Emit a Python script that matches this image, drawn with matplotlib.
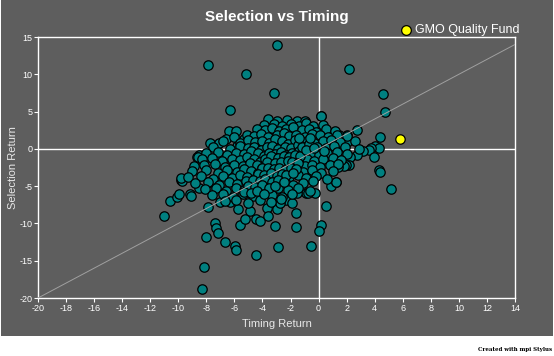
import matplotlib
matplotlib.use("Agg")
import matplotlib.pyplot as plt
from matplotlib.patches import Rectangle

plt.rcParams["font.family"] = ["Liberation Sans", "DejaVu Sans"]
plt.rcParams["axes.unicode_minus"] = False

# peer funds: timing return (x) vs selection return (y)
outlier_x = [-3.0, -7.86, -5.17, -3.18, -6.3, 0.17, -3.58, -3.0, -2.23, -1.52, -0.95,
             -3.4, -6.36, -6.58, -5.3, -7.74, -7.08, -8.52, -8.7, -8.86, -5.84,
             -11.0, -10.6, -10.1, -9.95, -9.83, -9.76, -9.17, -9.1, -8.52, -7.86,
             -7.36, -7.29, -7.19, -8.0, -6.65, -5.94, -5.87, -8.15, -8.29, -5.58,
             -5.25, -4.87, -4.49, -4.18, -3.68, -3.63, -3.1, -4.46, -2.87, -1.6,
             -1.59, 0.17, 0.05, -0.52, 0.55, -2.99, -5.77, -2.35, -1.9, -0.92,
             -0.28, 0.86, 1.24, -6.3, -7.03, -7.81, 2.19, 4.61, 4.75, 0.19, 2.76,
             4.38, 4.02, 4.33, 3.76, 3.59, 3.19, 2.76, 2.24, 3.97, 2.19, 1.93,
             4.28, 4.38, 1.45, 2.0, 2.05, 1.72, 5.16, 1.21, 1.79, 1.38, -2.75,
             -0.78, -1.56, -9.8, -8.62, -7.79]
outlier_y = [13.9, 11.25, 10.0, 7.5, 5.2, 4.4, 4.0, 3.74, 3.87, 3.7, 3.78,
             2.76, 2.4, 1.29, 1.33, 0.75, 0.75, -0.86, -1.1, -2.3, 0.35,
             -9.0, -7.0, -6.4, -6.1, -4.17, -4.34, -6.1, -6.3, -5.2, -7.8,
             -9.9, -10.6, -11.3, -11.8, -12.5, -13.0, -13.5, -15.8, -18.8, -10.2,
             -9.4, -8.3, -9.4, -9.66, -7.9, -8.95, -10.3, -14.3, -13.15, -10.5,
             -8.6, -10.2, -11.0, -13.0, -7.7, -8.06, -8.06, -6.9, -7.3, -5.96,
             -5.96, -4.93, -4.48, -7.1, -7.1, -4.5, 10.67, 7.36, 4.95, 4.37, 2.49,
             1.55, 0.43, 0.07, 0.07, -0.15, -0.24, -0.77, -1.13, -1.13, -2.16, -2.16,
             -2.83, -3.06, 1.86, 1.86, 0.88, 0.08, -5.37, -4.48, -2.25, -2.4, -7.2,
             -5.95, -5.87, -3.95, -1.04, -4.5]

core_x = [-3.9, -3.2, -2.6, -2.0, -1.4, -0.9, -0.4, 0.3,
          -5.9, -4.4, -3.8, -3.3, -2.8, -2.3, -1.8, -1.2, -0.7, -0.2, 0.5, 1.2,
          -6.0, -5.1, -4.6, -4.1, -3.6, -3.0, -2.5, -2.1, -1.6, -1.0, -0.5, 0.1, 0.7, 1.3, 2.0,
          -6.8, -5.6, -5.0, -4.5, -4.0, -3.5, -3.1, -2.6, -2.2, -1.7, -1.2, -0.8, -0.3, 0.3, 0.9, 1.5, 2.6,
          -7.5, -6.3, -5.6, -5.0, -4.6, -4.1, -3.7, -3.3, -2.9, -2.4, -2.0, -1.5, -1.1, -0.6, -0.1, 0.5, 1.1, 1.9, 2.9,
          -8.0, -7.2, -6.5, -5.9, -5.3, -4.8, -4.3, -3.9, -3.5, -3.1, -2.7, -2.3, -1.9, -1.4, -1.0, -0.5, 0.0, 0.6, 1.3, 2.0,
          -8.3, -7.6, -6.9, -6.2, -5.6, -5.1, -4.6, -4.2, -3.8, -3.4, -3.0, -2.6, -2.2, -1.8, -1.3, -0.8, -0.3, 0.3, 1.0, 1.6,
          -8.2, -7.4, -6.7, -6.0, -5.4, -4.9, -4.4, -4.0, -3.6, -3.2, -2.8, -2.4, -2.0, -1.5, -1.0, -0.5, 0.1, 0.8, 1.4,
          -9.0, -8.0, -7.2, -6.5, -5.8, -5.3, -4.8, -4.3, -3.9, -3.5, -3.0, -2.6, -2.1, -1.6, -1.1, -0.5, 0.2, 1.0,
          -9.3, -8.4, -7.5, -6.8, -6.2, -5.6, -5.1, -4.6, -4.1, -3.6, -3.1, -2.6, -2.1, -1.5, -0.9, -0.2, 0.6,
          -8.8, -7.9, -7.1, -6.4, -5.8, -5.2, -4.6, -4.1, -3.6, -3.0, -2.4, -1.8, -1.1, -0.4,
          -8.1, -7.3, -6.6, -5.9, -5.3, -4.7, -4.1, -3.5, -2.9, -2.2, -1.5, -0.6,
          -7.6, -6.8, -6.1, -5.4, -4.7, -4.0, -3.3, -2.6, -1.9,
          -6.7, -5.9, -5.0, -4.2, -3.4, -2.7,
          -3.4, -2.9, -2.5, -2.1, -1.7, -1.3, -3.7, -3.1, -2.7, -2.2, -1.9, -1.5,
          -4.0, -3.6, -3.2, -2.8, -2.4, -2.0, -1.6, -4.3, -3.9, -3.4, -3.0, -2.6,
          -2.3, -1.8, -4.7, -4.2, -3.8, -3.3, -2.9, -2.5, -5.0, -4.5, -4.0, -3.5,
          -3.1, -5.3, -4.8, -4.4, -3.9, -1.2, -0.7, -0.9, -0.3, 0.4, -1.4, -0.6]
core_y = [3.2, 3.4, 3.0, 3.3, 3.1, 3.5, 3.0, 3.2,
          2.4, 2.7, 2.5, 2.8, 2.4, 2.6, 2.9, 2.5, 2.7, 2.3, 2.6, 2.4,
          1.6, 1.9, 1.7, 2.0, 1.6, 1.8, 2.1, 1.7, 1.9, 1.6, 2.0, 1.8, 1.6, 1.9, 1.7,
          1.0, 0.8, 1.2, 0.9, 1.1, 0.8, 1.3, 1.0, 0.7, 1.2, 0.9, 1.1, 0.8, 1.0, 1.2, 0.9, 1.1,
          0.2, 0.0, 0.4, 0.1, 0.3, -0.1, 0.2, 0.4, 0.0, 0.3, 0.1, 0.5, 0.2, 0.0, 0.3, 0.1, 0.4, 0.2, 0.0,
          -0.6, -0.4, -0.8, -0.5, -0.7, -0.3, -0.6, -0.9, -0.5, -0.7, -0.4, -0.8, -0.6, -0.3, -0.7, -0.5, -0.8, -0.6, -0.4, -0.7,
          -1.4, -1.2, -1.6, -1.3, -1.5, -1.1, -1.4, -1.7, -1.3, -1.5, -1.2, -1.6, -1.4, -1.1, -1.5, -1.3, -1.6, -1.4, -1.2, -1.5,
          -2.2, -2.0, -2.4, -2.1, -2.3, -1.9, -2.2, -2.5, -2.1, -2.3, -2.0, -2.4, -2.2, -1.9, -2.3, -2.1, -2.4, -2.2, -2.0,
          -3.0, -2.8, -3.2, -2.9, -3.1, -2.7, -3.0, -3.3, -2.9, -3.1, -2.8, -3.2, -3.0, -2.7, -3.1, -2.9, -3.2, -3.0,
          -3.8, -3.6, -4.0, -3.7, -3.9, -3.5, -3.8, -4.1, -3.7, -3.9, -3.6, -4.0, -3.8, -3.5, -3.9, -3.7, -4.0,
          -4.6, -4.4, -4.8, -4.5, -4.7, -4.3, -4.6, -4.9, -4.5, -4.7, -4.4, -4.8, -4.6, -4.3,
          -5.4, -5.2, -5.6, -5.3, -5.5, -5.1, -5.4, -5.7, -5.3, -5.5, -5.2, -5.6,
          -6.2, -6.0, -6.4, -6.1, -6.3, -5.9, -6.2, -6.5, -6.1,
          -7.0, -6.8, -7.2, -6.9, -7.1, -6.7,
          -1.0, -1.2, -0.9, -1.1, -0.8, -1.0, -1.8, -1.9, -1.7, -1.6, -1.8, -1.9,
          -2.6, -2.5, -2.7, -2.6, -2.8, -2.5, -2.7, -3.4, -3.5, -3.3, -3.6, -3.4,
          -3.5, -3.3, -4.2, -4.3, -4.1, -4.4, -4.2, -4.4, -5.0, -5.1, -4.9, -5.2,
          -5.0, -5.8, -5.9, -5.7, -6.0, 0.3, 0.6, -0.2, 0.1, -0.3, 1.5, 1.4]

fund_name = "GMO Quality Fund"
fund_x = [5.8]
fund_y = [1.3]

x_ticks = list(range(-20, 15, 2))
y_ticks = list(range(-20, 16, 5))

bg = "#5e5e5e"
fig = plt.figure(figsize=(5.54, 3.56), dpi=100)
fig.patch.set_facecolor("white")
fig.add_artist(Rectangle((0.002, 1 - 336 / 356), 0.996, 336 / 356,
                         transform=fig.transFigure, facecolor=bg, edgecolor="none", zorder=-10))

ax = fig.add_axes([38 / 554, 1 - 298 / 356, 477 / 554, 261 / 356])
ax.set_facecolor(bg)
ax.set_xlim(-20, 14)
ax.set_ylim(-20, 15)

ax.axhline(0, color="white", lw=1, zorder=1)
ax.axvline(0, color="white", lw=1, zorder=1)

ax.scatter(outlier_x + core_x, outlier_y + core_y, s=46, c="#008080",
           edgecolors="black", linewidths=0.9, zorder=2)
ax.plot([-20, 14], [-20, 14], color="#a0a0a0", lw=0.7, zorder=3)
ax.scatter(fund_x, fund_y, s=46, c="#ffff00", edgecolors="black", linewidths=0.9, zorder=4)

for sp in ax.spines.values():
    sp.set_color("white")
    sp.set_linewidth(1)

ax.set_xticks(x_ticks)
ax.set_yticks(y_ticks)
ax.tick_params(colors="white", labelsize=6.5, length=3, width=0.8, pad=1)
ax.set_xlabel("Timing Return", color="#e8e8e8", fontsize=8)
ax.set_ylabel("Selection Return", color="#e8e8e8", fontsize=8)
ax.xaxis.set_label_coords(0.5, -(319 - 298) / 261)
ax.yaxis.set_label_coords(-(38 - 18) / 477, 0.5)

fig.text(277 / 554, 1 - 17 / 356, "Selection vs Timing", color="white", fontsize=11,
         fontweight="bold", ha="center", va="center")
fig.add_artist(plt.Line2D([406 / 554], [1 - 30 / 356], transform=fig.transFigure,
                          marker="o", markersize=7, color="#ffff00",
                          markeredgecolor="black", markeredgewidth=0.9, linestyle="none"))
fig.text(415 / 554, 1 - 30 / 356, fund_name, color="white", fontsize=9, va="center")

fig.text(552 / 554, 1 - 350 / 356, "Created with mpi Stylus", fontsize=4,
         family="DejaVu Serif", fontweight="bold", ha="right", va="center", color="black")

fig.savefig("out.png", dpi=100, facecolor=fig.get_facecolor())
